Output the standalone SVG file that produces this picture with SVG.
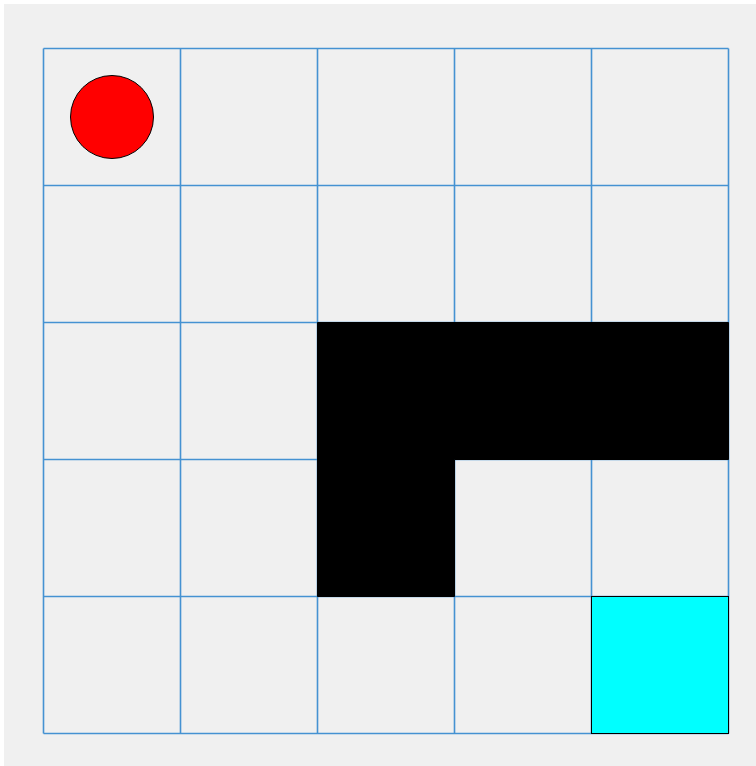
<svg xmlns="http://www.w3.org/2000/svg" width="756" height="766" viewBox="0 0 756 766">
<style>
.grid line{stroke:#4592d2;stroke-width:1.6;}
.obst{fill:#000;stroke:#000;stroke-width:1;}
</style>
<rect x="0" y="0" width="756" height="766" fill="#ffffff"/>
<rect x="4" y="4" width="752" height="762" fill="#f0f0f0"/>
<g id="grid" class="grid">
<line x1="43.5" y1="48.5" x2="43.5" y2="733.5"/>
<line x1="180.5" y1="48.5" x2="180.5" y2="733.5"/>
<line x1="317.5" y1="48.5" x2="317.5" y2="733.5"/>
<line x1="454.5" y1="48.5" x2="454.5" y2="733.5"/>
<line x1="591.5" y1="48.5" x2="591.5" y2="733.5"/>
<line x1="728.5" y1="48.5" x2="728.5" y2="733.5"/>
<line x1="43.5" y1="48.5" x2="728.5" y2="48.5"/>
<line x1="43.5" y1="185.5" x2="728.5" y2="185.5"/>
<line x1="43.5" y1="322.5" x2="728.5" y2="322.5"/>
<line x1="43.5" y1="459.5" x2="728.5" y2="459.5"/>
<line x1="43.5" y1="596.5" x2="728.5" y2="596.5"/>
<line x1="43.5" y1="733.5" x2="728.5" y2="733.5"/>
</g>
<g id="obstacle">
<polygon class="obst" points="317.5,322.5 728.5,322.5 728.5,459.5 454.5,459.5 454.5,596.5 317.5,596.5"/>
</g>
<g id="goal">
<rect x="591.5" y="596.5" width="137" height="137" fill="#00ffff" stroke="#000" stroke-width="1"/>
</g>
<g id="agent">
<circle cx="112" cy="117" r="41.5" fill="#ff0000" stroke="#000" stroke-width="1"/>
</g>
</svg>
